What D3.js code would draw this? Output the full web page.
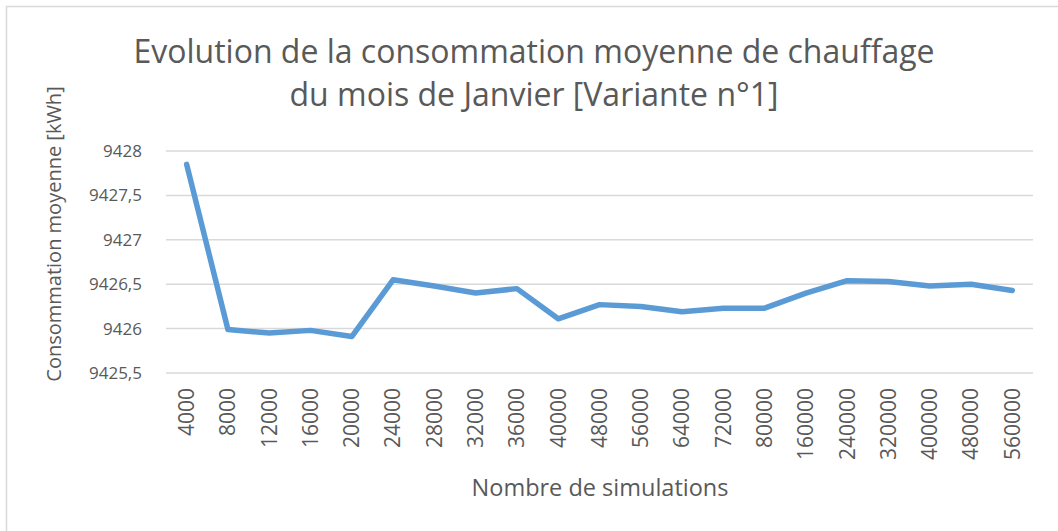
<!DOCTYPE html>
<html>
<head>
<meta charset="utf-8">
<script src="https://cdn.jsdelivr.net/npm/d3@7"></script>
<style>
  body { margin: 0; background: #fff; }
  svg { display: block; }
</style>
</head>
<body>
<div id="chart"></div>
<script>
// nombre de simulations (categories)
const simulations = ['4000', '8000', '12000', '16000', '20000', '24000', '28000', '32000', '36000', '40000',
    '48000', '56000', '64000', '72000', '80000', '160000', '240000', '320000', '400000', '480000', '560000'];
// consommation moyenne [kWh]
const consommation = [9427.85, 9425.99, 9425.95, 9425.98, 9425.91, 9426.55, 9426.48, 9426.40, 9426.45, 9426.11,
    9426.27, 9426.25, 9426.19, 9426.23, 9426.23, 9426.40, 9426.54, 9426.53, 9426.48, 9426.50, 9426.43];
const yTicks = [9425.5, 9426, 9426.5, 9427, 9427.5, 9428];

const width = 1058, height = 531;
const margin = { top: 151, right: 25, bottom: 158, left: 166 };
const grey = '#595959';

const svg = d3.select('#chart')
    .append('svg')
    .attr('width', width)
    .attr('height', height);

// cadre du graphique
svg.append('rect')
    .attr('x', 6.5).attr('y', 6.5)
    .attr('width', width + 10).attr('height', height + 10)
    .attr('fill', 'none')
    .attr('stroke', '#d9d9d9')
    .attr('stroke-width', 1.5);

const x = d3.scaleBand()
    .domain(simulations)
    .range([margin.left, width - margin.right]);

const y = d3.scaleLinear()
    .domain([9425.5, 9428])
    .range([height - margin.bottom, margin.top]);

// grille horizontale
svg.append('g')
    .selectAll('line')
    .data(yTicks)
    .enter()
    .append('line')
    .attr('x1', margin.left)
    .attr('x2', width - margin.right)
    .attr('y1', d => y(d))
    .attr('y2', d => y(d))
    .attr('stroke', '#d9d9d9')
    .attr('stroke-width', 1.5);

// axe Y
const yAxis = svg.append('g')
    .attr('transform', `translate(${margin.left - 24},0)`)
    .call(d3.axisLeft(y).tickValues(yTicks).tickSize(0).tickPadding(0)
        .tickFormat(d => String(d).replace('.', ',')));
yAxis.select('.domain').remove();
yAxis.selectAll('text')
    .attr('fill', grey)
    .style('font-family', '"Open Sans", sans-serif')
    .style('font-size', '17px');

// axe X
const xAxis = svg.append('g')
    .attr('transform', `translate(0,${height - margin.bottom})`)
    .call(d3.axisBottom(x).tickSize(0).tickPadding(0));
xAxis.select('.domain').remove();
xAxis.selectAll('text')
    .attr('fill', grey)
    .attr('transform', 'rotate(-90)')
    .attr('text-anchor', 'end')
    .attr('x', -15)
    .attr('y', 0)
    .attr('dy', '0.35em')
    .style('font-family', '"Open Sans", sans-serif')
    .style('font-size', '21px');

// courbe
const line = d3.line()
    .x((d, i) => x(simulations[i]) + x.bandwidth() / 2)
    .y(d => y(d));

svg.append('path')
    .datum(consommation)
    .attr('d', line)
    .attr('fill', 'none')
    .attr('stroke', '#5b9bd5')
    .attr('stroke-width', 5.5)
    .attr('stroke-linejoin', 'round')
    .attr('stroke-linecap', 'round');

// titres
const titleFont = '"Liberation Sans Narrow", "Open Sans", sans-serif';
svg.append('text')
    .attr('x', 534).attr('y', 63)
    .attr('text-anchor', 'middle')
    .attr('fill', grey)
    .style('font-family', titleFont)
    .style('font-size', '32px')
    .text('Evolution de la consommation moyenne de chauffage');
svg.append('text')
    .attr('x', 534).attr('y', 106)
    .attr('text-anchor', 'middle')
    .attr('fill', grey)
    .style('font-family', titleFont)
    .style('font-size', '32px')
    .text('du mois de Janvier [Variante n°1]');

svg.append('text')
    .attr('transform', 'translate(61,234) rotate(-90)')
    .attr('text-anchor', 'middle')
    .attr('fill', grey)
    .style('font-family', '"Open Sans", sans-serif')
    .style('font-size', '20px')
    .text('Consommation moyenne [kWh]');

svg.append('text')
    .attr('x', 600).attr('y', 496)
    .attr('text-anchor', 'middle')
    .attr('fill', grey)
    .style('font-family', titleFont)
    .style('font-size', '23.5px')
    .text('Nombre de simulations');
</script>
</body>
</html>
